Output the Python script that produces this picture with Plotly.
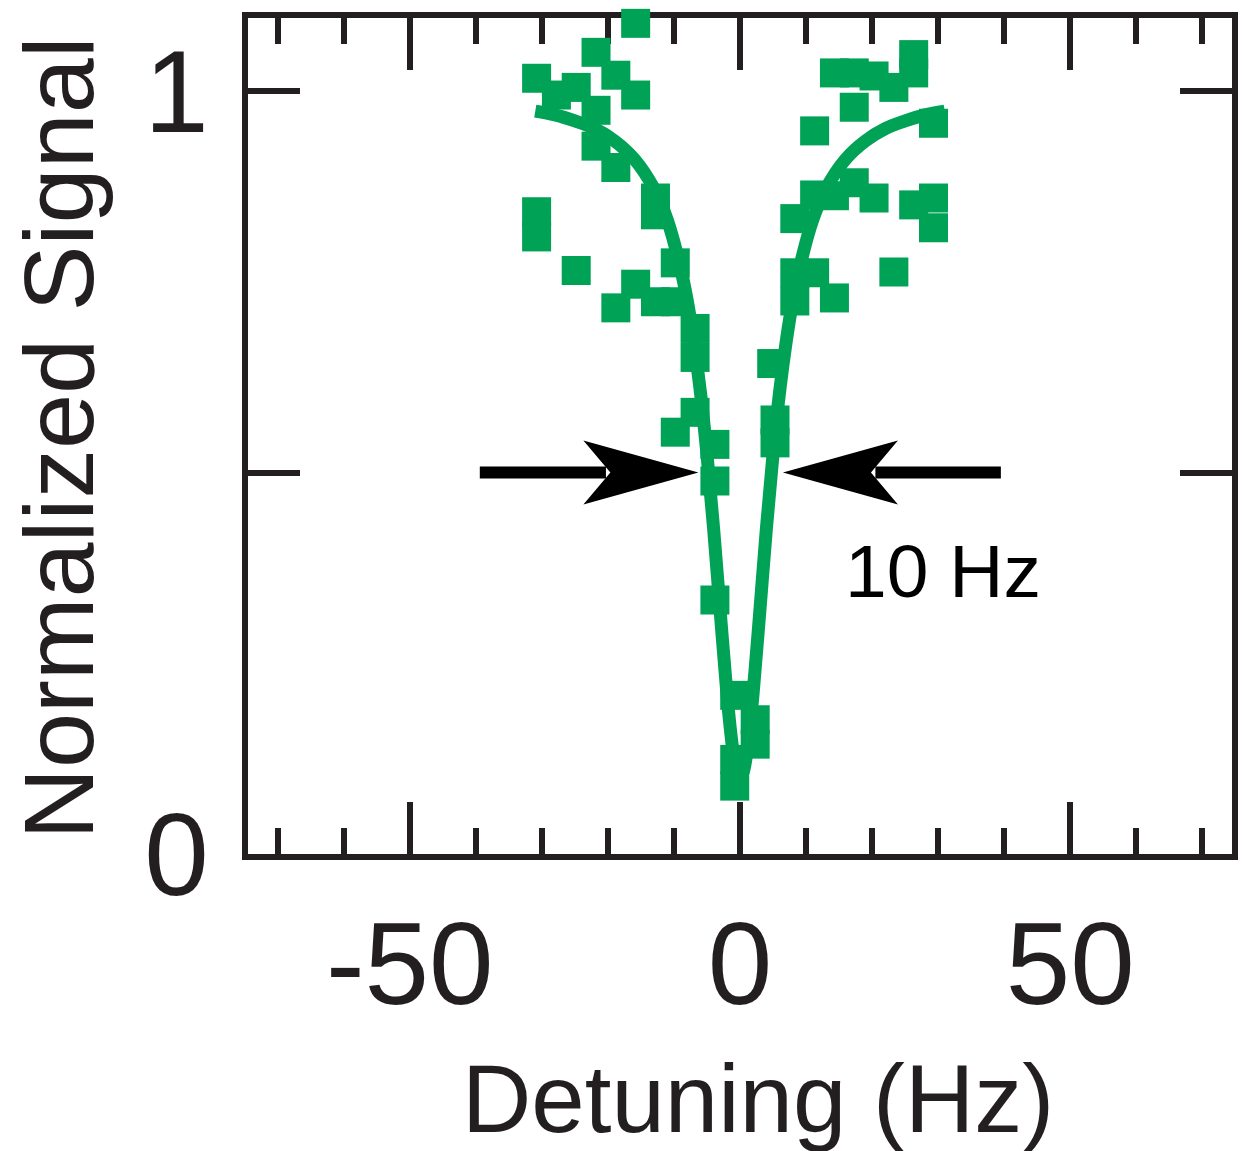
import plotly.graph_objects as go

# ---- data ----
data_x = [-30.8, -30.8, -30.8,
          -27.8,
          -24.8, -24.8,
          -21.8, -21.8, -21.8,
          -18.8, -18.8, -18.8,
          -15.8, -15.8, -15.8,
          -12.8, -12.8, -12.8,
          -9.8, -9.8, -9.8,
          -6.8, -6.8, -6.8,
          -3.8, -3.8, -3.8,
          -0.8, -0.8, -0.8,
          2.3, 2.3,
          4.8, 5.3, 5.3,
          8.3, 8.3, 8.3,
          11.3, 11.3, 11.3,
          14.3, 14.3, 14.3,
          17.3, 17.3, 17.3,
          20.3, 20.3,
          23.3, 23.3,
          26.3, 26.3, 26.3,
          29.3, 29.3, 29.3]
data_y = [1.017, 0.842, 0.809,
          0.995,
          1.005, 0.765,
          1.051, 0.975, 0.928,
          1.021, 0.900, 0.716,
          1.089, 0.995, 0.747,
          0.860, 0.838, 0.724,
          0.775, 0.724, 0.553,
          0.689, 0.651, 0.579,
          0.537, 0.489, 0.333,
          0.208, 0.124, 0.089,
          0.176, 0.144,
          0.643, 0.569, 0.539,
          0.833, 0.762, 0.725,
          0.948, 0.864, 0.762,
          1.024, 0.863, 0.729,
          1.024, 0.979, 0.880,
          1.020, 0.860,
          1.005, 0.763,
          1.048, 1.024, 0.851,
          0.958, 0.860, 0.821]

fit_x = [-31, -28, -25, -22, -19, -16, -13, -11, -9, -8, -7, -6, -5, -4, -3, -2, -1.5, -1, -0.5, 0,
         0.5, 1, 1.5, 2, 3, 4, 5, 6, 7, 8, 9, 11, 13, 16, 19, 22, 25, 28, 31]
fit_y = [0.974, 0.969, 0.961, 0.951, 0.935, 0.911, 0.872, 0.831, 0.768, 0.726, 0.672, 0.606, 0.524,
         0.427, 0.318, 0.212, 0.167, 0.131, 0.108, 0.100,
         0.108, 0.131, 0.167, 0.212, 0.318, 0.427, 0.524, 0.606, 0.672, 0.726, 0.768, 0.831, 0.872,
         0.911, 0.935, 0.951, 0.961, 0.969, 0.974]

x_tick_vals = [-50, 0, 50]
x_tick_text = ["-50", "0", "50"]
y_tick_vals = [0, 0.5, 1]
y_tick_text = ["0", "", "1"]

# width annotation (arrows at half maximum)
arrow_y = 0.5
left_arrow = (-39.4, -6.3)   # tail, tip
right_arrow = (39.5, 6.5)
width_label = "10 Hz"
width_label_pos = (30.8, 0.371)

GREEN = "#00a256"
INK = "#231f20"
FONT = "Liberation Sans, Arial, Helvetica, sans-serif"

fig = go.Figure()
fig.add_trace(go.Scatter(x=fit_x, y=fit_y, mode="lines",
                         line=dict(color=GREEN, width=13, shape="spline"),
                         hoverinfo="skip", cliponaxis=False))
fig.add_trace(go.Scatter(x=data_x, y=data_y, mode="markers",
                         marker=dict(symbol="square", size=29, color=GREEN, line=dict(width=0)),
                         cliponaxis=False))

shapes = []
for tail, tip in (left_arrow, right_arrow):
    sgn = 1 if tip > tail else -1
    shapes.append(dict(type="line", xref="x", yref="y", x0=tail, x1=tip - sgn * 14, y0=arrow_y, y1=arrow_y,
                       line=dict(color="black", width=12)))
    path = "M 0,0 L {a},32 L {b},0 L {a},-32 Z".format(a=-sgn * 115, b=-sgn * 88)
    shapes.append(dict(type="path", xref="x", yref="y", xsizemode="pixel", ysizemode="pixel",
                       xanchor=tip, yanchor=arrow_y, path=path,
                       fillcolor="black", line=dict(width=0)))

annotations = [
    dict(x=width_label_pos[0], y=width_label_pos[1], xref="x", yref="y", text=width_label,
         showarrow=False, font=dict(family=FONT, size=75, color="black"),
         xanchor="center", yanchor="middle"),
    dict(x=0.518, y=-0.292, xref="paper", yref="paper", text="Detuning (Hz)", showarrow=False,
         font=dict(family=FONT, size=96, color=INK), xanchor="center", yanchor="middle"),
    dict(x=-0.193, y=0.497, xref="paper", yref="paper", text="Normalized Signal", showarrow=False,
         textangle=-90, font=dict(family=FONT, size=99, color=INK), xanchor="center", yanchor="middle"),
]

fig.update_layout(
    width=1242, height=1151,
    margin=dict(l=248, r=4, t=18, b=297),
    paper_bgcolor="white", plot_bgcolor="white",
    showlegend=False,
    shapes=shapes, annotations=annotations,
    font=dict(family=FONT, color=INK),
    xaxis=dict(range=[-74.5, 74.5], showgrid=False, zeroline=False,
               showline=True, linewidth=6, linecolor=INK, mirror="ticks",
               ticks="inside", tickvals=x_tick_vals, ticktext=x_tick_text,
               ticklen=52, tickwidth=6, tickcolor=INK,
               minor=dict(dtick=10, tick0=0, ticks="inside", ticklen=26, tickwidth=6, tickcolor=INK, showgrid=False),
               tickfont=dict(family=FONT, size=116, color=INK), layer="below traces",
               ticklabelstandoff=5),
    yaxis=dict(range=[0, 1.096], showgrid=False, zeroline=False,
               showline=True, linewidth=6, linecolor=INK, mirror="ticks",
               ticks="inside", tickvals=y_tick_vals, ticktext=y_tick_text,
               ticklen=52, tickwidth=6, tickcolor=INK,
               tickfont=dict(family=FONT, size=116, color=INK), layer="below traces",
               ticklabelstandoff=10),
)

# remove the default 8 px page margin so the figure fills the window exactly
fig.write_html("out.html",
               config={"displayModeBar": False},
               post_script="document.body.style.margin='0';document.body.style.overflow='hidden';")
